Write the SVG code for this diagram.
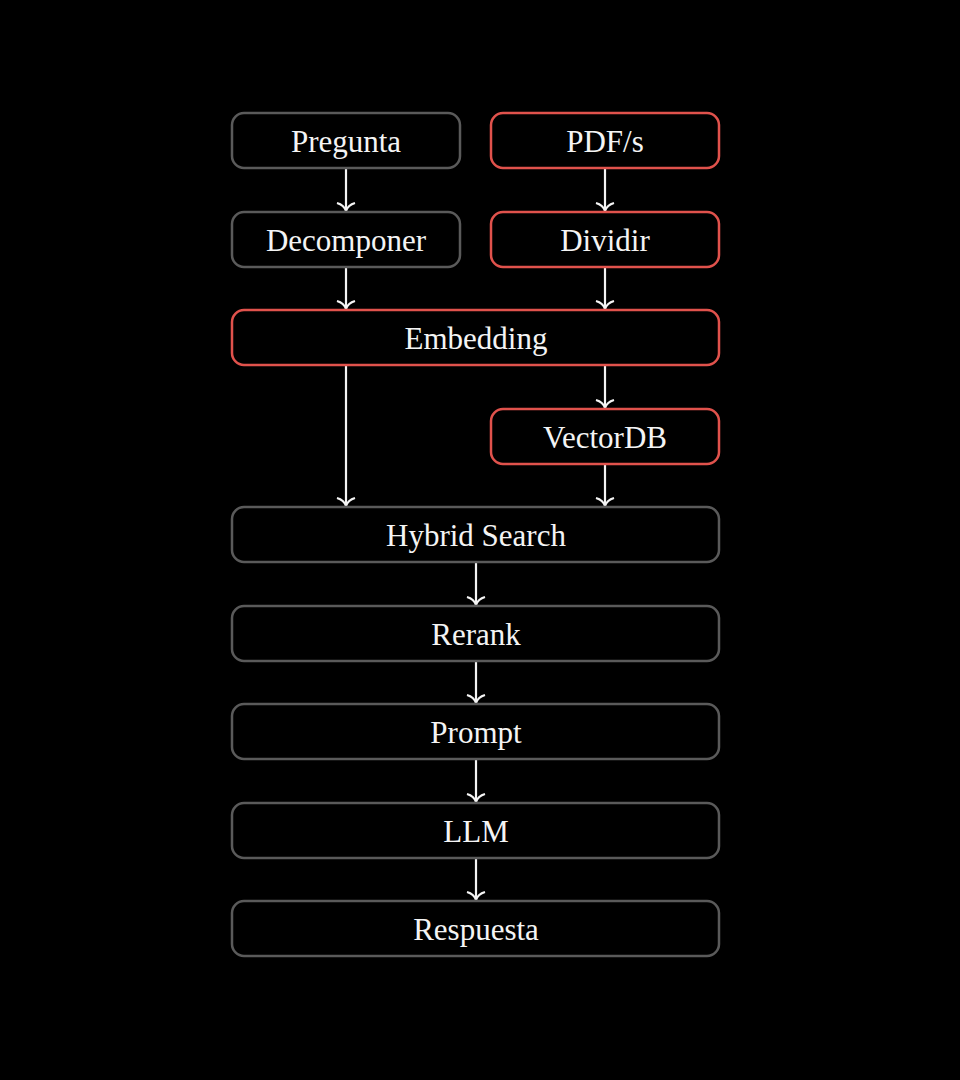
<svg xmlns="http://www.w3.org/2000/svg" width="960" height="1080" viewBox="0 0 960 1080">
  <style>
    .box { fill: #000; stroke-width: 2.5; }
    .grey { stroke: #5a5a5a; }
    .red { stroke: #e0524c; }
    .lbl { fill: #f4f4f4; font-family: "Liberation Serif", "DejaVu Serif", serif; font-size: 31px; text-anchor: middle; dominant-baseline: central; }
    .edge { stroke: #f4f4f4; stroke-width: 2.2; fill: none; marker-end: url(#chev); }
  </style>
  <defs>
    <!-- downward open chevron; tip sits at the line end -->
    <marker id="chev" viewBox="0 0 20 12" refX="10" refY="11" markerWidth="20" markerHeight="12" markerUnits="userSpaceOnUse" orient="0">
      <path d="M1,3 Q8,5 10,11 Q12,5 19,3" fill="none" stroke="#f4f4f4" stroke-width="2.2"/>
    </marker>
  </defs>
  <rect width="960" height="1080" fill="#000"/>

  <g id="connectors">
    <line class="edge" x1="346" y1="169" x2="346" y2="211"/>
    <line class="edge" x1="605" y1="169" x2="605" y2="211"/>
    <line class="edge" x1="346" y1="268" x2="346" y2="309"/>
    <line class="edge" x1="605" y1="268" x2="605" y2="309"/>
    <line class="edge" x1="605" y1="366" x2="605" y2="408"/>
    <line class="edge" x1="346" y1="366" x2="346" y2="506"/>
    <line class="edge" x1="605" y1="465" x2="605" y2="506"/>
    <line class="edge" x1="476" y1="563" x2="476" y2="605"/>
    <line class="edge" x1="476" y1="662" x2="476" y2="703"/>
    <line class="edge" x1="476" y1="760" x2="476" y2="802"/>
    <line class="edge" x1="476" y1="859" x2="476" y2="900"/>
  </g>

  <g id="pregunta"><rect class="box grey" x="232" y="113" width="228" height="55" rx="12"/><text class="lbl" x="346" y="141">Pregunta</text></g>
  <g id="pdfs"><rect class="box red" x="491" y="113" width="228" height="55" rx="12"/><text class="lbl" x="605" y="141">PDF/s</text></g>
  <g id="decomponer"><rect class="box grey" x="232" y="212" width="228" height="55" rx="12"/><text class="lbl" x="346" y="240">Decomponer</text></g>
  <g id="dividir"><rect class="box red" x="491" y="212" width="228" height="55" rx="12"/><text class="lbl" x="605" y="240">Dividir</text></g>
  <g id="embedding"><rect class="box red" x="232" y="310" width="487" height="55" rx="12"/><text class="lbl" x="476" y="338">Embedding</text></g>
  <g id="vectordb"><rect class="box red" x="491" y="409" width="228" height="55" rx="12"/><text class="lbl" x="605" y="437">VectorDB</text></g>
  <g id="hybrid-search"><rect class="box grey" x="232" y="507" width="487" height="55" rx="12"/><text class="lbl" x="476" y="535">Hybrid Search</text></g>
  <g id="rerank"><rect class="box grey" x="232" y="606" width="487" height="55" rx="12"/><text class="lbl" x="476" y="634">Rerank</text></g>
  <g id="prompt"><rect class="box grey" x="232" y="704" width="487" height="55" rx="12"/><text class="lbl" x="476" y="732">Prompt</text></g>
  <g id="llm"><rect class="box grey" x="232" y="803" width="487" height="55" rx="12"/><text class="lbl" x="476" y="831">LLM</text></g>
  <g id="respuesta"><rect class="box grey" x="232" y="901" width="487" height="55" rx="12"/><text class="lbl" x="476" y="929">Respuesta</text></g>
</svg>
